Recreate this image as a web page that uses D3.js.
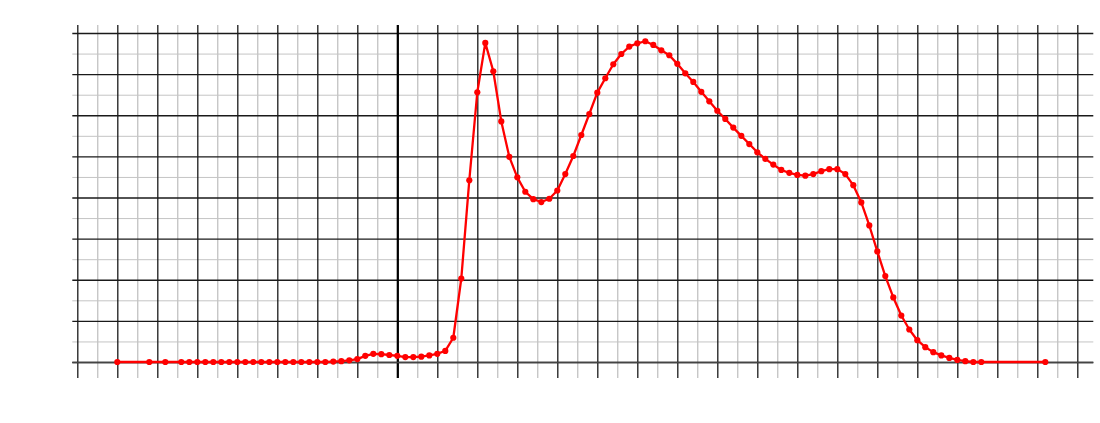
<!DOCTYPE html>
<html>
<head>
<meta charset="utf-8">
<script src="https://cdn.jsdelivr.net/npm/d3@7"></script>
<style>
html,body{margin:0;padding:0;background:#fff;}
svg{display:block;}
</style>
</head>
<body>
<svg id="chart" width="1100" height="423"></svg>
<script>
const xValues = [-35,-31,-29,-27,-26,-25,-24,-23,-22,-21,-20,-19,-18,-17,-16,-15,-14,-13,-12,-11,-10,-9,-8,-7,-6,-5,-4,-3,-2,-1,0,1,2,3,4,5,6,7,8,9,10,11,12,13,14,15,16,17,18,19,20,21,22,23,24,25,26,27,28,29,30,31,32,33,34,35,36,37,38,39,40,41,42,43,44,45,46,47,48,49,50,51,52,53,54,55,56,57,58,59,60,61,62,63,64,65,66,67,68,69,70,71,72,73,81];
const yValues = [0,0,0,0,0,0,0,0,0,0,0,0,0,0,0,0,0,0,0,0,0,0,0.01,0.02,0.04,0.07,0.15,0.2,0.19,0.17,0.15,0.12,0.12,0.13,0.16,0.2,0.27,0.59,2.03,4.42,6.56,7.76,7.07,5.85,4.99,4.49,4.14,3.96,3.89,3.97,4.17,4.57,5.01,5.52,6.03,6.55,6.90,7.24,7.49,7.67,7.75,7.80,7.71,7.58,7.46,7.25,7.02,6.81,6.57,6.34,6.11,5.91,5.70,5.50,5.30,5.10,4.94,4.80,4.67,4.60,4.55,4.53,4.57,4.64,4.69,4.69,4.57,4.30,3.88,3.32,2.69,2.09,1.57,1.13,0.79,0.53,0.36,0.24,0.16,0.10,0.05,0.02,0,0,0];
const xMajorTicks = [-40,-35,-30,-25,-20,-15,-10,-5,0,5,10,15,20,25,30,35,40,45,50,55,60,65,70,75,80,85];
const xMinorTicks = [-37.5,-32.5,-27.5,-22.5,-17.5,-12.5,-7.5,-2.5,2.5,7.5,12.5,17.5,22.5,27.5,32.5,37.5,42.5,47.5,52.5,57.5,62.5,67.5,72.5,77.5,82.5];
const yMajorTicks = [0,1,2,3,4,5,6,7,8];
const yMinorTicks = [0.5,1.5,2.5,3.5,4.5,5.5,6.5,7.5];

(function(){
const data = xValues.map((x,i)=>({x, y:yValues[i]}));
const svg = d3.select("#chart");
const pl=72.3, pr=1093.3, pt=25, pb=378;
const x = d3.scaleLinear().domain([-40.625, 87]).range([pl, pr]);
const y = d3.scaleLinear().domain([-0.389, 8.195]).range([pb, pt]);

function grid(g, axis, color, width){
  g.call(axis);
  g.select(".domain").remove();
  g.selectAll(".tick line").attr("stroke", color).attr("stroke-width", width);
  g.selectAll(".tick text").remove();
}
svg.append("g").attr("transform",`translate(0,${pb})`)
  .call(g=>grid(g, d3.axisBottom(x).tickValues(xMinorTicks).tickSize(-(pb-pt)).tickFormat(""), "#b0b0b0", 1));
svg.append("g").attr("transform",`translate(${pl},0)`)
  .call(g=>grid(g, d3.axisLeft(y).tickValues(yMinorTicks).tickSize(-(pr-pl)).tickFormat(""), "#c4c4c4", 1));
svg.append("g").attr("transform",`translate(0,${pb})`)
  .call(g=>grid(g, d3.axisBottom(x).tickValues(xMajorTicks).tickSize(-(pb-pt)).tickFormat(""), "#1a1a1a", 1.3));
svg.append("g").attr("transform",`translate(${pl},0)`)
  .call(g=>grid(g, d3.axisLeft(y).tickValues(yMajorTicks).tickSize(-(pr-pl)).tickFormat(""), "#1a1a1a", 1.3));
svg.append("g").attr("transform",`translate(0,${pb})`)
  .call(g=>grid(g, d3.axisBottom(x).tickValues([0]).tickSize(-(pb-pt)).tickFormat(""), "#000", 2.2));
svg.append("g").attr("transform",`translate(${pl},0)`)
  .call(g=>grid(g, d3.axisLeft(y).tickValues([0]).tickSize(-(pr-pl)).tickFormat(""), "#444", 1.7));

const line = d3.line().x(d=>x(d.x)).y(d=>y(d.y));
svg.append("path").datum(data).attr("d", line)
  .attr("fill","none").attr("stroke","#ff0000").attr("stroke-width",2.3).attr("stroke-linejoin","round");
svg.append("g").selectAll("circle").data(data).join("circle")
  .attr("cx",d=>x(d.x)).attr("cy",d=>y(d.y)).attr("r",3.1).attr("fill","#ff0000");
})();
</script>
</body>
</html>
